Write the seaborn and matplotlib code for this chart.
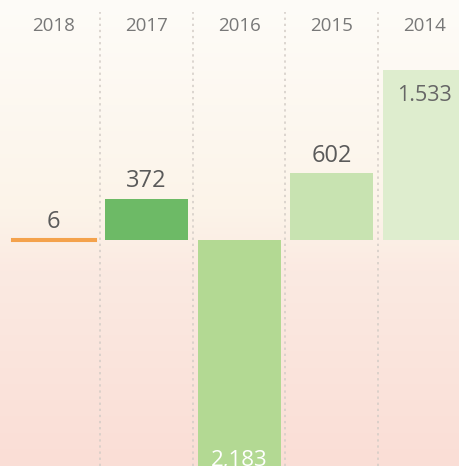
"""Yearly result bars, newest year first, with a soft warm background."""

import matplotlib

matplotlib.use("Agg")
import matplotlib.pyplot as plt
import numpy as np
import pandas as pd
import seaborn as sns

years = ["2018", "2017", "2016", "2015", "2014"]
values = [6, 372, -2183, 602, 1533]
labels = ["6", "372", "2,183", "602", "1.533"]
bar_colors = ["#F4A24C", "#6DBA66", "#B3D993", "#C8E3B1", "#DEEDCE"]

df = pd.DataFrame({"year": years, "value": values})

sns.set_theme(style="white")
plt.rcParams["font.family"] = ["Open Sans", "DejaVu Sans"]

fig = plt.figure(figsize=(4.59, 4.66), dpi=100)
ax = fig.add_axes([0, 0, 1, 1])

# warm vertical gradient behind everything (cream on top, pink at the bottom)
stops = np.array([0.0, 0.45, 0.58, 1.0])
stop_cols = np.array([[254, 252, 248], [252, 244, 233], [251, 234, 226], [250, 222, 214]]) / 255
t = np.linspace(0, 1, 256)
grad = np.stack([np.interp(t, stops, stop_cols[:, c]) for c in range(3)], axis=-1)[:, None, :]
ax.imshow(grad, extent=[0, 1, 0, 1], transform=ax.transAxes, aspect="auto",
          zorder=0, interpolation="bicubic")

sns.barplot(data=df, x="year", y="value", hue="year", order=years,
            palette=dict(zip(years, bar_colors)), saturation=1, width=0.895,
            legend=False, linewidth=0, ax=ax, zorder=2)

# the 2018 value is tiny, give it a visible stroke like the original
tiny = ax.patches[0]
tiny.set_edgecolor(bar_colors[0])
tiny.set_linewidth(2.2)

ax.set_xlim(-0.577, 4.372)
ax.set_ylim(-2034, 2160)

for sep in np.arange(0.5, len(years) - 1, 1):
    ax.axvline(sep, ymin=0, ymax=0.975, color="#D3CCC6", linestyle=(0, (1.5, 2.5)),
               linewidth=1.1, zorder=1)

for i, year in enumerate(years):
    ax.text(i, 0.945, year, transform=ax.get_xaxis_transform(), ha="center",
            va="center", fontsize=13.5, color="#787878")

for i, (v, lab) in enumerate(zip(values, labels)):
    if v < 0:
        ax.annotate(lab, xy=(i, v), xytext=(0, 12), textcoords="offset points",
                    ha="center", va="baseline", fontsize=16, color="white",
                    zorder=3, annotation_clip=False)
    elif v > 1000:
        ax.annotate(lab, xy=(i, v), xytext=(0, -11), textcoords="offset points",
                    ha="center", va="top", fontsize=15.5, color="#666666", zorder=3)
    else:
        ax.annotate(lab, xy=(i, v), xytext=(0, 4), textcoords="offset points",
                    ha="center", va="bottom", fontsize=17, color="#5A5A5A", zorder=3)

ax.set_xlabel("")
ax.set_ylabel("")
ax.set_xticks([])
ax.set_yticks([])
for side in ax.spines.values():
    side.set_visible(False)

fig.savefig("out.png", dpi=100)
